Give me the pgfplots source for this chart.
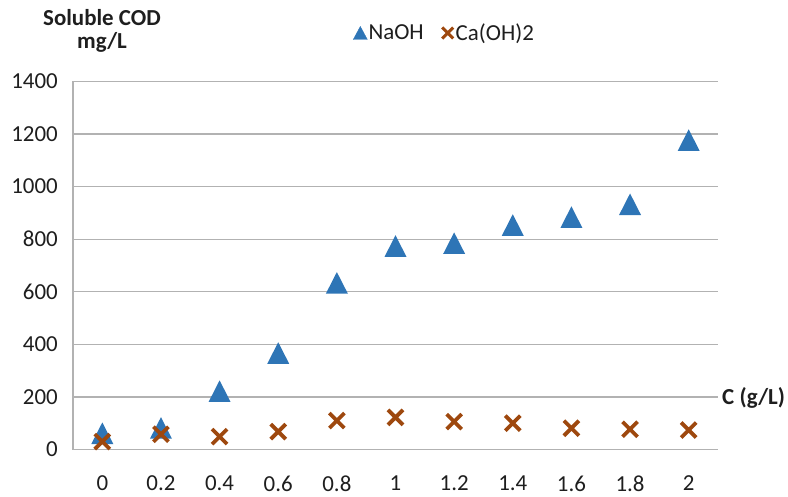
\documentclass[border=0pt]{standalone}
\usepackage{fontspec}
\setmainfont{Carlito}
\usepackage{pgfplots}
\pgfplotsset{compat=1.18}
\definecolor{naoh}{RGB}{46,117,182}
\definecolor{caoh}{RGB}{158,72,14}
\definecolor{gridc}{RGB}{178,178,178}
\definecolor{txt}{RGB}{30,30,30}
\pgfdeclareplotmark{xtri}{%
  \pgfpathmoveto{\pgfpoint{0bp}{10.8bp}}%
  \pgfpathlineto{\pgfpoint{-11bp}{-10.8bp}}%
  \pgfpathlineto{\pgfpoint{11bp}{-10.8bp}}%
  \pgfpathclose\pgfusepathqfill}
\pgfdeclareplotmark{xcross}{%
  \pgfsetlinewidth{3.8bp}\pgfsetbuttcap
  \pgfpathmoveto{\pgfpoint{-7.5bp}{-7.5bp}}\pgfpathlineto{\pgfpoint{7.5bp}{7.5bp}}%
  \pgfpathmoveto{\pgfpoint{-7.5bp}{7.5bp}}\pgfpathlineto{\pgfpoint{7.5bp}{-7.5bp}}%
  \pgfusepathqstroke}
\begin{document}
\begin{tikzpicture}
\path[use as bounding box] (0,0) rectangle (788bp,497bp);
\begin{axis}[
  at={(73bp,47.5bp)}, anchor=south west,
  scale only axis, width=645bp, height=368bp,
  xmin=-0.1, xmax=2.1, ymin=0, ymax=1400,
  clip=false,
  axis lines*=left,
  axis line style={draw=gridc, line width=1.2bp},
  ymajorgrids, grid style={draw=gridc, line width=1.2bp},
  major tick length=0pt,
  xtick={0,0.2,0.4,0.6,0.8,1,1.2,1.4,1.6,1.8,2},
  xticklabels={0,0.2,0.4,0.6,0.8,1,1.2,1.4,1.6,1.8,2},
  ytick={0,200,400,600,800,1000,1200,1400},
  yticklabels={0,200,400,600,800,1000,1200,1400},
  ticklabel style={font=\fontsize{23}{26}\selectfont, text=txt},
  xticklabel style={anchor=center, inner sep=0pt, yshift=-34bp},
  yticklabel style={anchor=east, inner sep=0pt, xshift=-15bp},
  legend style={at={(axis description cs:0.5752,1.1318)}, anchor=center,
    draw=none, fill=none, font=\fontsize{23}{26}\selectfont, text=txt,
    legend columns=2,
    /tikz/every even column/.append style={column sep=16bp},
    nodes={inner sep=1bp}},
]
\addplot[only marks, color=naoh, mark=xtri,
  legend image code/.code={\fill[naoh] (0bp,6.5bp)--(-7bp,-6.5bp)--(7bp,-6.5bp)--cycle;}]
  coordinates {(0,62) (0.2,82) (0.4,222) (0.6,367) (0.8,634) (1,774) (1.2,785) (1.4,854) (1.6,884) (1.8,933) (2,1177)};
\addlegendentry{NaOH}
\addplot[only marks, color=caoh, mark=xcross,
  legend image code/.code={\draw[caoh, line width=3bp] (-5.5bp,-5.5bp)--(5.5bp,5.5bp) (-5.5bp,5.5bp)--(5.5bp,-5.5bp);}]
  coordinates {(0,30) (0.2,58) (0.4,49) (0.6,68) (0.8,110) (1,122) (1.2,106) (1.4,100) (1.6,81) (1.8,77) (2,74)};
\addlegendentry{Ca(OH)2}
\end{axis}
\node[font=\fontsize{23}{26}\selectfont\bfseries, text=txt, anchor=base, inner sep=0pt] at (102bp,471bp) {Soluble COD};
\node[font=\fontsize{23}{26}\selectfont\bfseries, text=txt, anchor=base, inner sep=0pt] at (102bp,448.5bp) {mg/L};
\node[font=\fontsize{23}{26}\selectfont\bfseries, text=txt, anchor=west, inner sep=0pt] at (722bp,99bp) {C (g/L)};
\end{tikzpicture}
\end{document}
